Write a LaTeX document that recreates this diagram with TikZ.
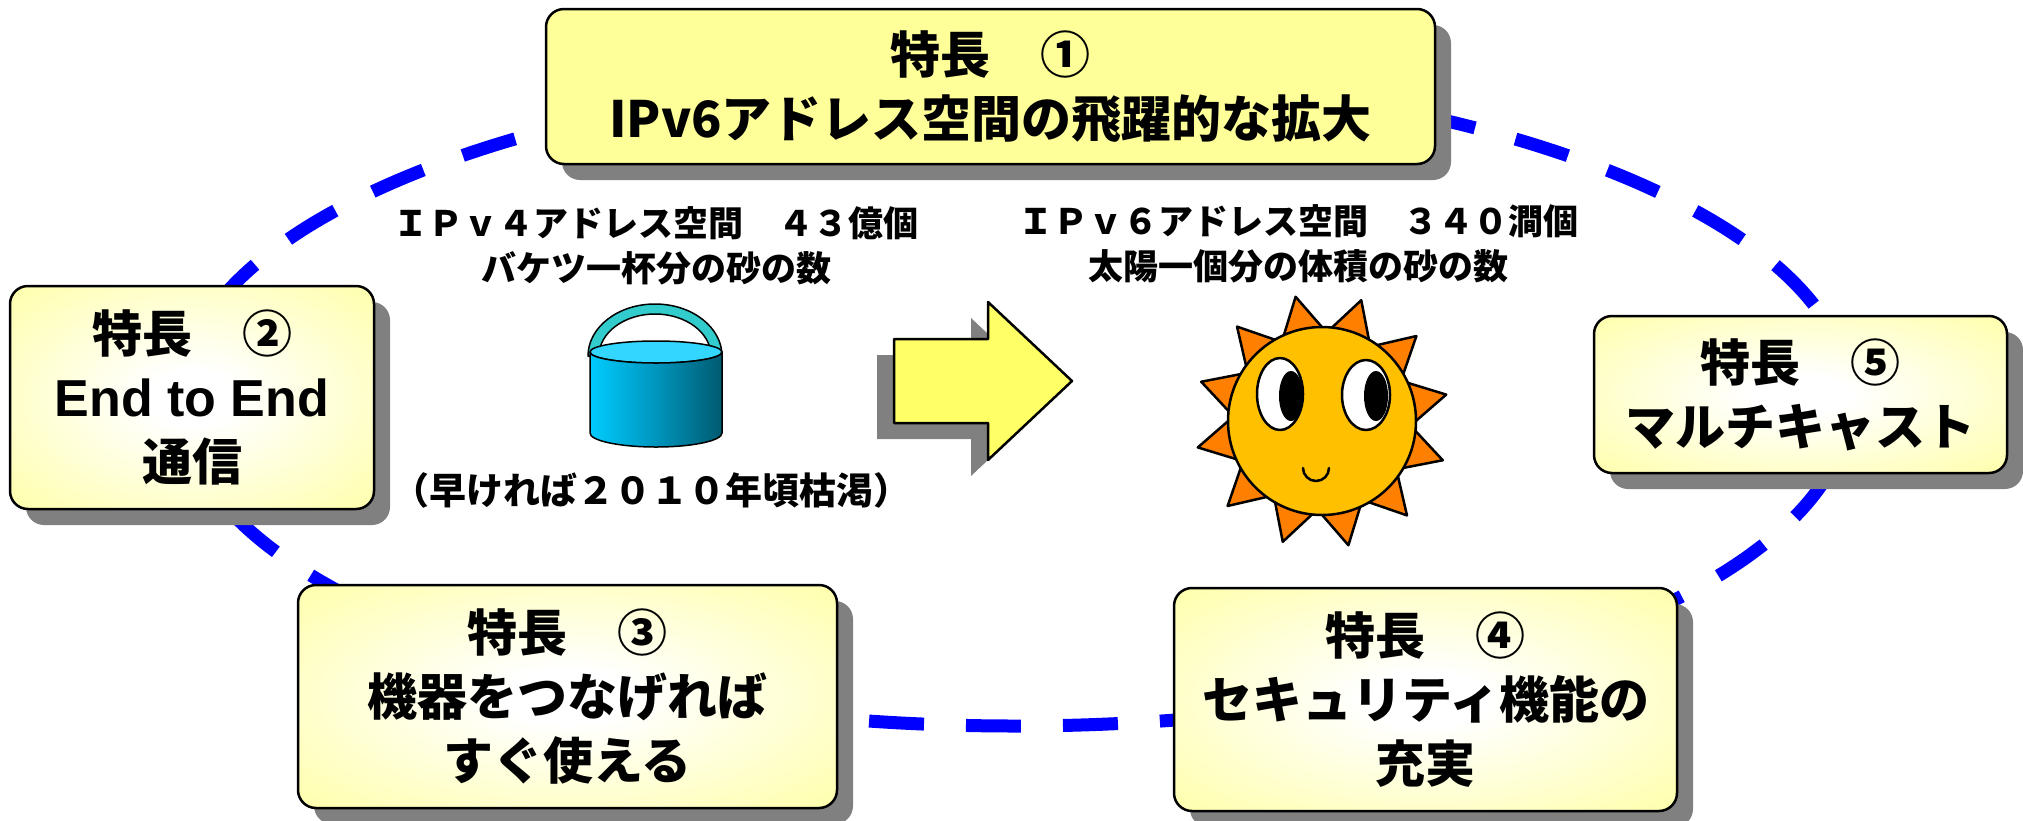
\documentclass[tikz,border=0pt]{standalone}
\usepackage{fontspec}
\setmainfont{Noto Sans CJK JP}
\newfontfamily\notefont{Noto Sans CJK JP}[Kerning=Off]
\newfontfamily\latinfont{Liberation Sans}
\usetikzlibrary{shadows}

\definecolor{boxyellow}{HTML}{FFFF99}
\definecolor{arrowyellow}{HTML}{FFFF66}
\definecolor{shadowgray}{HTML}{808080}
\definecolor{ringblue}{HTML}{0000FF}
\definecolor{sunface}{HTML}{FFC000}
\definecolor{sunray}{HTML}{FF8000}
\definecolor{handleteal}{HTML}{33CCCC}
\definecolor{watertop}{HTML}{33D6FF}
\definecolor{bucketlight}{HTML}{00CCFF}
\definecolor{bucketmid}{HTML}{0095BD}
\definecolor{bucketdark}{HTML}{005A70}

% white glow in the middle of the feature boxes
\pgfdeclareradialshading{boxglow}{\pgfpoint{0bp}{0bp}}{%
  color(0bp)=(white); color(6bp)=(white); color(42bp)=(boxyellow); color(50bp)=(boxyellow)}

\tikzset{
  featbox/.style={draw=black, line width=2.5pt, rounded corners=18pt, inner sep=0pt,
    align=center, font=\bfseries\fontsize{50pt}{64pt}\selectfont,
    drop shadow={shadow xshift=16pt, shadow yshift=-16pt, fill=shadowgray, opacity=1}},
  glowfill/.style={shade, shading=boxglow},
  flatfill/.style={fill=boxyellow},
  note/.style={align=center, inner sep=0pt, font=\notefont\bfseries\fontsize{35pt}{45pt}\selectfont},
  outline/.style={draw=black, line width=2.5pt, line join=round},
}

\begin{document}
\begin{tikzpicture}[x=1pt, y=-1pt]
\useasboundingbox (0,0) rectangle (2023,820);

% dashed ring linking the features
\draw[ringblue, line width=13pt, dash pattern=on 55pt off 42pt, dash phase=90pt]
  (1015,400) ellipse [x radius=835pt, y radius=326pt];

% feature boxes
\node[featbox, flatfill, minimum width=889pt, minimum height=155pt] (f1) at (990.5,86.5)
  {特長　①\\IPv6アドレス空間の飛躍的な拡大};
\node[featbox, glowfill, minimum width=364pt, minimum height=223pt] (f2) at (192,397.5)
  {特長　②\\{\latinfont\fontsize{52pt}{64pt}\selectfont End to End}\\通信};
\node[featbox, glowfill, minimum width=539pt, minimum height=223pt] (f3) at (567.5,696.5)
  {特長　③\\機器をつなげれば\\すぐ使える};
\node[featbox, glowfill, minimum width=503pt, minimum height=223pt] (f4) at (1425.5,699.5)
  {特長　④\\セキュリティ機能の\\充実};
\node[featbox, glowfill, minimum width=413pt, minimum height=157pt] (f5) at (1800.5,394.5)
  {特長　⑤\\マルチキャスト};

% address space notes
\node[note] (v4) at (656,246) {ＩＰｖ４アドレス空間　４３億個\\バケツ一杯分の砂の数};
\node[note] (v6) at (1298,244) {ＩＰｖ６アドレス空間　３４０澗個\\太陽一個分の体積の砂の数};
\node[note, font=\notefont\bfseries\fontsize{37pt}{45pt}\selectfont] (dry) at (651,490)
  {（早ければ２０１０年頃枯渇）};

% bucket
\path[outline, line width=1.5pt, fill=handleteal]
  (588,356) arc[start angle=180, end angle=0, x radius=67pt, y radius=52pt]
  -- (711,356) arc[start angle=0, end angle=180, x radius=56pt, y radius=42pt] -- cycle;
\path[outline, line width=1.5pt, fill=watertop]
  (656,352) ellipse [x radius=66pt, y radius=11pt];
\path[outline, line width=1.5pt, left color=bucketlight, right color=bucketdark, middle color=bucketmid]
  (590,352) -- (590,433) arc[start angle=180, end angle=360, x radius=66pt, y radius=14pt]
  -- (722,352) arc[start angle=0, end angle=-180, x radius=66pt, y radius=11pt] -- cycle;

% block arrow with its shadow
\path[fill=shadowgray, shift={(-17,16)}]
  (894,339) -- (988,339) -- (988,302) -- (1072,381) -- (988,460) -- (988,423) -- (894,423) -- cycle;
\path[outline, fill=arrowyellow]
  (894,339) -- (988,339) -- (988,302) -- (1072,381) -- (988,460) -- (988,423) -- (894,423) -- cycle;

% smiling sun
\begin{scope}[shift={(1322,421)}]
  \foreach \a in {18,48,...,348}
    \path[outline, fill=sunray] (\a-13:92) -- (\a:127) -- (\a+13:92) -- cycle;
  \path[outline, fill=sunface] (0,0) circle[radius=94pt];
  \path[outline, fill=white] (-42,-27) ellipse [x radius=23pt, y radius=36pt];
  \fill[black] (-31,-25) ellipse [x radius=12pt, y radius=25pt];
  \path[outline, fill=white] (44,-26) ellipse [x radius=24pt, y radius=35pt];
  \fill[black] (54,-25) ellipse [x radius=12pt, y radius=25pt];
  \draw[line width=2.5pt, line cap=round] (-19,47) arc[start angle=180, end angle=360, radius=13pt];
\end{scope}
\end{tikzpicture}
\end{document}
